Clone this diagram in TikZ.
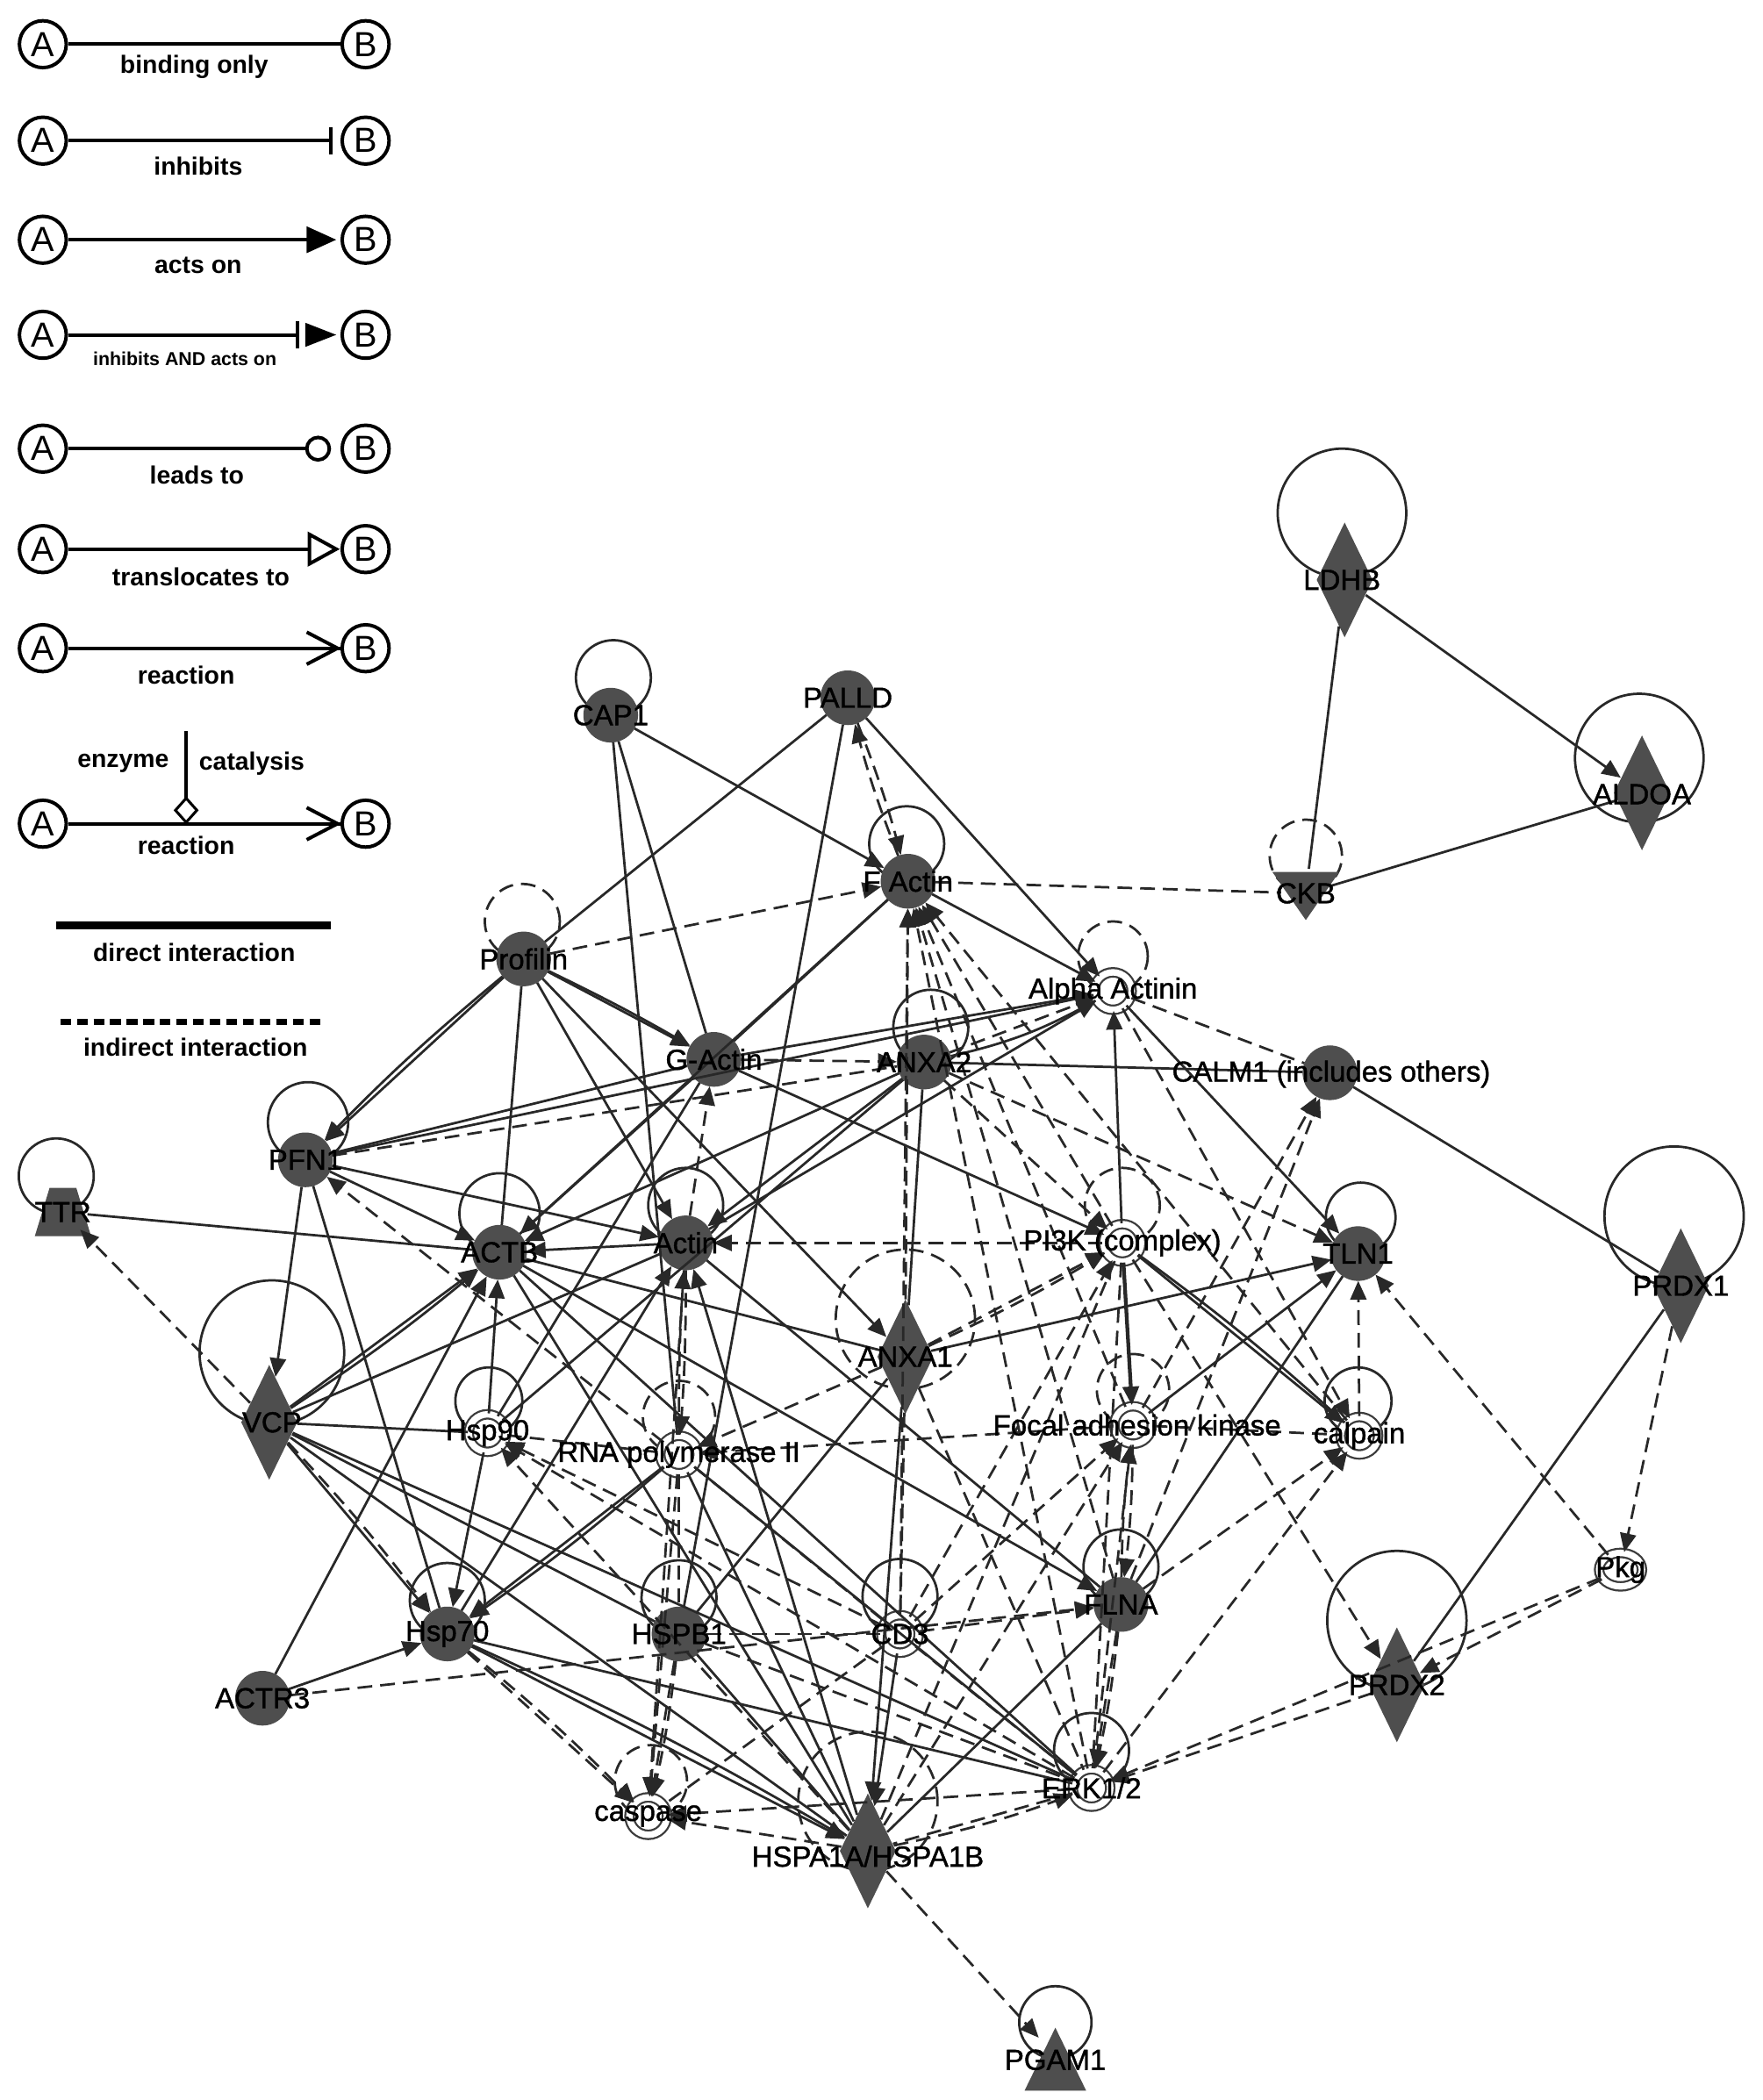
\documentclass[tikz,border=0pt]{standalone}
\usepackage{fontspec}
\setmainfont{Liberation Sans}
\newfontfamily\labfont[FakeBold=1.2]{Liberation Sans}
\usetikzlibrary{shapes.geometric,arrows.meta}
\definecolor{nodec}{RGB}{78,78,78}
\definecolor{linec}{RGB}{40,40,40}
\definecolor{ringc}{RGB}{60,60,60}
\begin{document}
\begin{tikzpicture}[x=0.5pt,y=-0.5pt,
  sol/.style={draw=linec, line width=0.9pt},
  sola/.style={sol, -{Triangle[length=7pt,width=6pt]}},
  das/.style={sol, dash pattern=on 5.5pt off 3pt},
  dasa/.style={das, -{Triangle[length=7pt,width=6pt]}},
  fn/.style={circle, fill=nodec, draw=nodec, minimum size=20pt, inner sep=0pt},
  wn/.style={circle, fill=white, draw=ringc, line width=0.75pt, double=white, double distance=2.4pt, minimum size=14pt, inner sep=0pt},
  dn/.style={diamond, fill=nodec, minimum width=21pt, minimum height=43pt, inner sep=0pt},
  an/.style={circle, minimum size=18pt, inner sep=0pt},
  lab/.style={font=\labfont\fontsize{10.8}{12}\selectfont, inner sep=0pt},
  lg/.style={font=\bfseries\fontsize{9.3}{11}\selectfont, inner sep=0pt},
  lgc/.style={circle, draw=black, line width=1.3pt, minimum size=17.5pt, inner sep=0pt, font=\fontsize{13}{14}\selectfont},
  lgl/.style={draw=black, line width=1.3pt},
]
\fill[white] (0,0) rectangle (1316,1568);
\useasboundingbox (0,0) rectangle (1316,1568);

% ---------------- legend ----------------
\node[lgc] (a1) at (32,33) {A}; \node[lgc] (b1) at (273,33) {B};
\draw[lgl] (a1) -- (b1);
\node[lg] (t1) at (145,50) {binding only};

\node[lgc] (a2) at (32,105) {A}; \node[lgc] (b2) at (273,105) {B};
\draw[lgl] (a2) -- (247,105); \draw[lgl] (247,95) -- (247,115);
\node[lg] (t2) at (148,124) {inhibits};

\node[lgc] (a3) at (32,179) {A}; \node[lgc] (b3) at (273,179) {B};
\draw[lgl] (a3) -- (230,179); \fill (229,169) -- (251,179) -- (229,189) -- cycle;
\node[lg] (t3) at (148,198) {acts on};

\node[lgc] (a4) at (32,250) {A}; \node[lgc] (b4) at (273,250) {B};
\draw[lgl] (a4) -- (222,250); \draw[lgl] (222,240) -- (222,260);
\fill (228,241) -- (251,250) -- (228,259) -- cycle;
\node[lg, font=\bfseries\fontsize{7}{8}\selectfont] (t4) at (138,268) {inhibits AND acts on};

\node[lgc] (a5) at (32,335) {A}; \node[lgc] (b5) at (273,335) {B};
\draw[lgl] (a5) -- (229,335); \draw[lgl] (237.5,335) circle (4.2pt);
\node[lg] (t5) at (147,355) {leads to};

\node[lgc] (a6) at (32,410) {A}; \node[lgc] (b6) at (273,410) {B};
\draw[lgl] (a6) -- (231,410); \draw[lgl, fill=white] (231,399) -- (251,410) -- (231,421) -- cycle;
\node[lg] (t6) at (150,431) {translocates to};

\node[lgc] (a7) at (32,484) {A}; \node[lgc] (b7) at (273,484) {B};
\draw[lgl] (a7) -- (b7); \draw[lgl] (229,472) -- (252,484) -- (229,496);
\node[lg] (t7) at (139,504) {reaction};

\node[lg] (t8a) at (92,570) {enzyme};
\node[lg] (t8b) at (188,570) {catalysis};
\draw[lgl] (139,546) -- (139,596);
\draw[black, line width=1pt, fill=white] (139,596) -- (147,605) -- (139,614) -- (131,605) -- cycle;
\node[lgc] (a8) at (32,615) {A}; \node[lgc] (b8) at (273,615) {B};
\draw[lgl] (a8) -- (b8); \draw[lgl] (229,603) -- (252,615) -- (229,627);
\node[lg] (t8) at (139,631) {reaction};

\draw[black, line width=3pt] (42,691) -- (247,691);
\node[lg] (t9) at (145,711) {direct interaction};
\draw[black, line width=2.5pt, dash pattern=on 4pt off 2.2pt] (45,763) -- (243,763);
\node[lg] (t10) at (146,782) {indirect interaction};

% ---------------- self loops ----------------
\draw[sol] (1002,383) circle (24pt);
\draw[sol] (1224,566) circle (24pt);
\draw[das] (975,639) circle (13.5pt);
\draw[sol] (458,506) circle (14pt);
\draw[sol] (677,630) circle (14pt);
\draw[das] (390,688) circle (14pt);
\draw[das] (831,714) circle (13pt);
\draw[sol] (695,767) circle (14pt);
\draw[sol] (230,838) circle (15pt);
\draw[sol] (42,878) circle (14pt);
\draw[sol] (373,906) circle (15pt);
\draw[sol] (512,900) circle (14pt);
\draw[das] (838,900) circle (14pt);
\draw[sol] (1016,909) circle (13pt);
\draw[sol] (1250,908) circle (26pt);
\draw[sol] (203,1010) circle (27pt);
\draw[das] (676,985) circle (26pt);
\draw[sol] (365,1046) circle (12.5pt);
\draw[das] (507,1058) circle (13.5pt);
\draw[das] (846,1038) circle (13.5pt);
\draw[sol] (1014,1046) circle (12.5pt);
\draw[sol] (334,1195) circle (14pt);
\draw[sol] (507,1193) circle (14pt);
\draw[sol] (672,1192) circle (14pt);
\draw[sol] (837,1170) circle (14pt);
\draw[sol] (1043,1210) circle (26pt);
\draw[das] (486,1330) circle (13.5pt);
\draw[sol] (815,1307) circle (14pt);
\draw[das] (648,1345) circle (26pt);
\draw[sol] (788,1510) circle (13.5pt);

% ---------------- nodes ----------------
\node[fn] (CAP1) at (456,534) {};
\node[fn] (PALLD) at (633,521) {};
\node[fn] (FActin) at (678,658) {};
\node[fn] (Profilin) at (391,716) {};
\node[wn] (AlphaAct) at (831,740) {};
\node[fn] (GActin) at (533,791) {};
\node[fn] (ANXA2) at (690,793) {};
\node[fn] (CALM1) at (993,801) {};
\node[fn] (PFN1) at (228,866) {};
\node[an] (TTR) at (47,905) {};
\fill[nodec] (26,923) -- (68,923) -- (57,887) -- (37,887) -- cycle;
\node[fn] (ACTB) at (373,935) {};
\node[fn] (Actin) at (512,928) {};
\node[wn] (PI3K) at (838,928) {};
\node[fn] (TLN1) at (1014,936) {};
\node[dn] (PRDX1) at (1255,960) {};
\node[dn] (VCP) at (201,1062) {};
\node[dn] (ANXA1) at (676,1013) {};
\node[wn] (Hsp90) at (364,1070) {};
\node[wn] (RNApol) at (507,1086) {};
\node[wn] (FAK) at (846,1064) {};
\node[wn] (calpain) at (1015,1072) {};
\node[wn, ellipse, minimum width=16pt, minimum height=12.5pt] (Pkg) at (1210,1172) {};
\node[fn] (Hsp70) at (334,1220) {};
\node[fn] (HSPB1) at (507,1220) {};
\node[wn] (CD3) at (672,1220) {};
\node[fn] (FLNA) at (837,1198) {};
\node[dn] (PRDX2) at (1043,1258) {};
\node[fn] (ACTR3) at (196,1268) {};
\node[wn] (caspase) at (484,1356) {};
\node[wn] (ERK) at (815,1335) {};
\node[dn] (HSPA) at (648,1382) {};
\node[an] (PGAM1) at (788,1535) {};
\fill[nodec] (788,1514) -- (811,1561) -- (765,1561) -- cycle;
\node[dn] (LDHB) at (1004,433) {};
\node[dn] (ALDOA) at (1226,592) {};
\node[an] (CKB) at (975,667) {};
\fill[nodec] (950,651) -- (1000,651) -- (975,687) -- cycle;

% ---------------- edges ----------------
\draw[sol] (LDHB) -- (CKB);
\draw[sola] (LDHB) -- (ALDOA);
\draw[sol] (ALDOA) -- (CKB);
\draw[das] (FActin) -- (CKB);

\draw[sola] (CAP1) -- (FActin);
\draw[sol] (CAP1) -- (GActin);
\draw[sol] (CAP1) -- (RNApol);

\draw[sol] (PALLD) -- (Profilin);
\draw[dasa] (PALLD) to[bend left=3] (FActin);
\draw[dasa] (FActin) to[bend left=3] (PALLD);
\draw[sola] (PALLD) -- (AlphaAct);
\draw[sol] (PALLD) -- (HSPB1);

\draw[dasa] (Profilin) -- (FActin);
\draw[sola] (Profilin) -- (GActin);
\draw[sola] (Profilin) to[bend left=2] (GActin);
\draw[sola] (Profilin) -- (PFN1);
\draw[sola] (Profilin) to[bend right=3] (PFN1);
\draw[sol] (Profilin) -- (ACTB);
\draw[sola] (Profilin) -- (Actin);
\draw[sola] (Profilin) -- (ANXA1);

\draw[sol] (FActin) -- (GActin);
\draw[sol] (FActin) -- (ACTB);
\draw[sola] (FActin) -- (AlphaAct);
\draw[dasa] (CD3) -- (FActin);
\draw[dasa] (ANXA1) -- (FActin);
\draw[dasa] (FAK) -- (FActin);
\draw[dasa] (ERK) -- (FActin);
\draw[dasa] (FLNA) -- (FActin);
\draw[dasa] (PI3K) -- (FActin);
\draw[dasa] (calpain) -- (FActin);

\draw[sola] (GActin) -- (AlphaAct);
\draw[dasa] (ANXA2) -- (AlphaAct);
\draw[sol] (ANXA2) to[bend right=8] (AlphaAct);
\draw[sola] (AlphaAct) -- (TLN1);
\draw[das] (AlphaAct) -- (CALM1);
\draw[sola] (PI3K) -- (AlphaAct);
\draw[sola] (Actin) -- (AlphaAct);
\draw[dasa] (AlphaAct) -- (calpain);
\draw[sol] (PFN1) -- (AlphaAct);

\draw[dasa] (GActin) -- (ANXA2);
\draw[sola] (GActin) -- (PI3K);
\draw[sola] (GActin) -- (ACTB);
\draw[sol] (GActin) -- (Hsp90);
\draw[dasa] (Actin) -- (GActin);

\draw[sol] (ANXA2) -- (CALM1);
\draw[sol] (ANXA2) -- (ANXA1);
\draw[sol] (ANXA2) -- (Hsp90);
\draw[sola] (ANXA2) -- (ACTB);
\draw[sola] (ANXA2) -- (Actin);
\draw[dasa] (ANXA2) -- (TLN1);
\draw[dasa] (ANXA2) -- (PI3K);

\draw[sol] (PFN1) -- (GActin);
\draw[das] (PFN1) -- (ANXA2);
\draw[sola] (PFN1) -- (ACTB);
\draw[sola] (PFN1) -- (Actin);
\draw[sola] (PFN1) -- (VCP);
\draw[sol] (PFN1) -- (Hsp70);
\draw[dasa] (RNApol) -- (PFN1);

\draw[sol] (TTR) -- (ACTB);
\draw[dasa] (VCP) -- (TTR);

\draw[sola] (Actin) -- (ACTB);
\draw[sol] (ACTB) -- (ANXA1);
\draw[sola] (ACTB) -- (FLNA);
\draw[sola] (Hsp90) -- (ACTB);
\draw[sola] (ACTR3) -- (ACTB);
\draw[sola] (VCP) -- (ACTB);
\draw[sola] (VCP) to[bend right=3] (ACTB);
\draw[sol] (ACTB) -- (HSPA);
\draw[sol] (ACTB) -- (ERK);

\draw[dasa] (PI3K) -- (Actin);
\draw[dasa] (RNApol) to[bend left=2] (Actin);
\draw[dasa] (Actin) to[bend left=2] (RNApol);
\draw[dasa] (Actin) -- (caspase);
\draw[sol] (Actin) -- (FLNA);
\draw[sola] (HSPA) -- (Actin);
\draw[sola] (Hsp70) -- (Actin);
\draw[sol] (VCP) -- (Actin);

\draw[sola, line width=1.4pt] (PI3K) -- (FAK);
\draw[sola] (PI3K) -- (calpain);
\draw[sol] (PI3K) to[bend left=3] (calpain);
\draw[dasa] (ANXA1) -- (PI3K);
\draw[dasa] (ANXA1) to[bend right=3] (PI3K);
\draw[das] (PI3K) -- (ERK);
\draw[dasa] (PI3K) -- (PRDX2);
\draw[das] (PI3K) -- (HSPA);
\draw[dasa] (CD3) -- (PI3K);

\draw[das] (FAK) -- (calpain);
\draw[dasa] (FAK) -- (RNApol);
\draw[dasa] (FLNA) to[bend left=3] (FAK);
\draw[dasa] (FAK) to[bend left=3] (FLNA);
\draw[dasa] (CD3) -- (FAK);
\draw[dasa] (ERK) -- (FAK);
\draw[sola] (FAK) -- (TLN1);
\draw[dasa] (FAK) -- (CALM1);
\draw[dasa] (HSPA) -- (FAK);

\draw[dasa] (calpain) -- (TLN1);
\draw[dasa] (FLNA) -- (calpain);
\draw[dasa] (ERK) -- (calpain);

\draw[sola] (ANXA1) -- (TLN1);
\draw[sol] (FLNA) -- (TLN1);
\draw[dasa] (Pkg) -- (TLN1);

\draw[sol] (CALM1) -- (PRDX1);
\draw[dasa] (FLNA) -- (CALM1);

\draw[sol] (PRDX1) -- (PRDX2);
\draw[dasa] (PRDX1) -- (Pkg);
\draw[dasa] (Pkg) -- (PRDX2);
\draw[dasa] (Pkg) -- (ERK);
\draw[dasa] (PRDX2) -- (ERK);

\draw[sol] (VCP) -- (Hsp90);
\draw[sola] (VCP) -- (Hsp70);
\draw[dasa] (VCP) to[bend left=3] (Hsp70);
\draw[sol] (VCP) -- (HSPB1);
\draw[sol] (VCP) -- (HSPA);
\draw[sol] (VCP) -- (ERK);

\draw[sola] (Hsp90) -- (Hsp70);
\draw[das] (Hsp90) -- (RNApol);
\draw[dasa] (CD3) -- (Hsp90);
\draw[dasa] (ERK) -- (Hsp90);
\draw[dasa] (HSPA) -- (Hsp90);

\draw[sola] (RNApol) -- (Hsp70);
\draw[sola] (RNApol) to[bend left=3] (Hsp70);
\draw[das] (RNApol) -- (HSPB1);
\draw[dasa] (RNApol) -- (caspase);
\draw[sol] (RNApol) -- (ERK);
\draw[sol] (RNApol) -- (HSPA);
\draw[dasa] (ANXA1) -- (RNApol);
\draw[das] (RNApol) -- (CD3);

\draw[sola] (ANXA1) -- (HSPA);
\draw[das] (ANXA1) -- (CD3);
\draw[sol] (ANXA1) -- (HSPB1);
\draw[das] (ANXA1) -- (ERK);

\draw[dasa] (HSPB1) -- (caspase);
\draw[dasa] (HSPB1) to[bend left=3] (caspase);
\draw[das] (HSPB1) -- (CD3);
\draw[das] (HSPB1) -- (ERK);
\draw[sol] (HSPB1) -- (HSPA);

\draw[dasa] (CD3) -- (FLNA);
\draw[sola] (CD3) -- (HSPA);
\draw[das] (CD3) -- (ERK);
\draw[das] (CD3) -- (caspase);

\draw[dasa] (FLNA) -- (ERK);
\draw[dasa] (FLNA) to[bend left=3] (ERK);
\draw[sol] (FLNA) -- (HSPA);
\draw[dasa] (ACTR3) -- (FLNA);

\draw[dasa] (ERK) -- (caspase);
\draw[das] (ERK) -- (HSPA);
\draw[dasa] (HSPA) to[bend right=4] (ERK);
\draw[sol] (Hsp70) -- (ERK);

\draw[dasa] (HSPA) -- (PGAM1);
\draw[dasa] (HSPA) -- (caspase);
\draw[sola] (Hsp70) -- (HSPA);
\draw[sola] (Hsp70) to[bend left=3] (HSPA);

\draw[dasa] (Hsp70) -- (caspase);
\draw[dasa] (Hsp70) to[bend left=3] (caspase);

\draw[sola] (ACTR3) -- (Hsp70);

% ---------------- labels ----------------
\node[lab] (lCAP1) at (456,534) {CAP1};
\node[lab] (lPALLD) at (633,521) {PALLD};
\node[lab] (lFActin) at (678,658) {F Actin};
\node[lab] (lProfilin) at (391,716) {Profilin};
\node[lab] (lAlphaAct) at (831,740) {Alpha Actinin};
\node[lab] (lGActin) at (533,791) {G-Actin};
\node[lab] (lANXA2) at (690,793) {ANXA2};
\node[lab] (lCALM1) at (994,802) {CALM1 (includes others)};
\node[lab] (lPFN1) at (228,866) {PFN1};
\node[lab] (lTTR) at (47,905) {TTR};
\node[lab] (lACTB) at (373,935) {ACTB};
\node[lab] (lActin) at (512,928) {Actin};
\node[lab] (lPI3K) at (838,928) {PI3K (complex)};
\node[lab] (lTLN1) at (1014,936) {TLN1};
\node[lab] (lPRDX1) at (1255,960) {PRDX1};
\node[lab] (lVCP) at (203,1062) {VCP};
\node[lab] (lANXA1) at (676,1013) {ANXA1};
\node[lab] (lHsp90) at (364,1070) {Hsp90};
\node[lab] (lRNApol) at (507,1086) {RNA polymerase II};
\node[lab] (lFAK) at (849,1064) {Focal adhesion kinase};
\node[lab] (lcalpain) at (1015,1072) {calpain};
\node[lab] (lPkg) at (1210,1172) {Pkg};
\node[lab] (lHsp70) at (334,1220) {Hsp70};
\node[lab] (lHSPB1) at (507,1220) {HSPB1};
\node[lab] (lCD3) at (672,1220) {CD3};
\node[lab] (lFLNA) at (837,1198) {FLNA};
\node[lab] (lPRDX2) at (1043,1258) {PRDX2};
\node[lab] (lACTR3) at (196,1268) {ACTR3};
\node[lab] (lcaspase) at (484,1356) {caspase};
\node[lab] (lERK) at (815,1335) {ERK1/2};
\node[lab] (lHSPA) at (648,1386) {HSPA1A/HSPA1B};
\node[lab] (lPGAM1) at (788,1538) {PGAM1};
\node[lab] (lLDHB) at (1002,433) {LDHB};
\node[lab] (lALDOA) at (1226,593) {ALDOA};
\node[lab] (lCKB) at (975,667) {CKB};
\end{tikzpicture}
\end{document}
